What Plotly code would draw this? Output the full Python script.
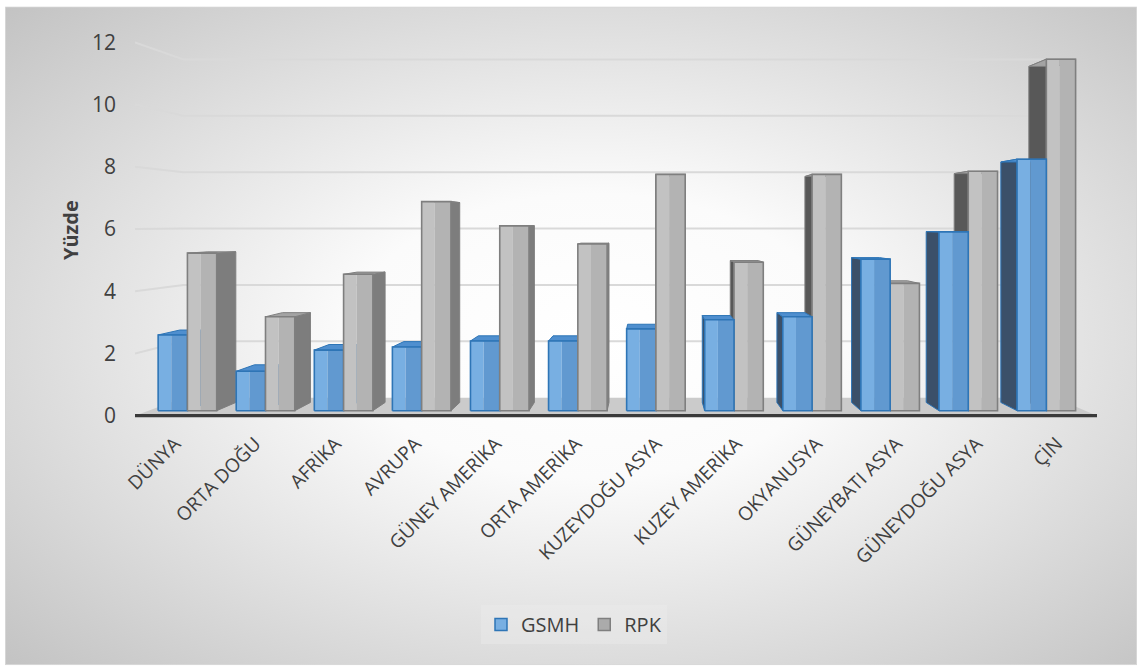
import base64
import plotly.graph_objects as go

# ---- data -------------------------------------------------------------
categories = ["DÜNYA", "ORTA DOĞU", "AFRİKA", "AVRUPA", "GÜNEY AMERİKA",
              "ORTA AMERİKA", "KUZEYDOĞU ASYA", "KUZEY AMERİKA", "OKYANUSYA",
              "GÜNEYBATI ASYA", "GÜNEYDOĞU ASYA", "ÇİN"]
gsmh = [2.5, 1.3, 2.0, 2.1, 2.3, 2.3, 2.7, 3.0, 3.1, 5.0, 5.9, 8.3]
rpk = [5.2, 3.1, 4.5, 6.9, 6.1, 5.5, 7.8, 4.9, 7.8, 4.2, 7.9, 11.6]
y_ticks = [0, 2, 4, 6, 8, 10, 12]
series_names = ["GSMH", "RPK"]

# ---- geometry of the pseudo-3D view ----------------------------------
W, H = 1140, 666
PLOT_L, PLOT_R = 135, 1097          # pixel span of the front floor edge
X_RANGE = [-0.5, len(categories) - 0.5]
PX_PER_UNIT = 31.17                 # vertical pixels per value unit (front plane)
Y0_PX = 416                          # pixel row of value 0 on the front plane
Y_RANGE = [-0.3, 12.3]

XC, YC = 5.92, 6.16                  # vanishing point (data units)
S_FRONT_BAR, S_BACK_BAR, S_WALL = 0.974, 0.931, 0.906
BAR_W = 0.375                        # width of one column (category units)

margin_t = Y0_PX - Y_RANGE[1] * PX_PER_UNIT
margin_b = H - (Y0_PX - Y_RANGE[0] * PX_PER_UNIT)
plot_h = H - margin_t - margin_b
plot_w = PLOT_R - PLOT_L


def proj(x, y, s):
    """Perspective shrink toward the vanishing point for depth factor s."""
    return XC + (x - XC) * s, YC + (y - YC) * s


def poly(points):
    xs, ys = zip(*points)
    return list(xs) + [xs[0]], list(ys) + [ys[0]]


fig = go.Figure()


def add_face(points, fill, line_color=None, line_width=0.0, opacity=1.0):
    xs, ys = poly(points)
    fig.add_trace(go.Scatter(
        x=xs, y=ys, mode="lines", fill="toself", fillcolor=fill,
        line=dict(color=line_color or fill, width=line_width),
        opacity=opacity, hoverinfo="skip", showlegend=False))


def add_line(points, color, width):
    xs, ys = zip(*points)
    fig.add_trace(go.Scatter(
        x=list(xs), y=list(ys), mode="lines",
        line=dict(color=color, width=width),
        hoverinfo="skip", showlegend=False))


# ---- walls: gridlines on the left wall and the back wall ---------------
xl, xr = X_RANGE
for t in y_ticks[1:]:
    fl = proj(xl, t, 1.0)
    bl = proj(xl, t, S_WALL)
    br = proj(xr, t, S_WALL)
    add_line([fl, bl, br], "#d9d9d9", 2)

# ---- floor --------------------------------------------------------------
add_face([proj(xl, 0, 1.0), proj(xr, 0, 1.0), proj(xr, 0, S_WALL),
          proj(xl, 0, S_WALL)], "#cbcbcb")
add_line([proj(xl, 0, 1.0), proj(xr, 0, 1.0)], "#3a3a3a", 3.2)

# ---- columns ------------------------------------------------------------
styles = {
    "GSMH": dict(front_l="#78afe2", front_r="#6199d0", edge="#2e75b6",
                 top="#4f8fcf", side_r="#4a78a6", side_l="#3b5069"),
    "RPK": dict(front_l="#c2c2c2", front_r="#b3b3b3", edge="#7f7f7f",
                top="#a3a3a3", side_r="#7d7d7d", side_l="#585858"),
}

columns = []
for i, cat in enumerate(categories):
    columns.append(("GSMH", i - BAR_W, i, gsmh[i]))
    columns.append(("RPK", i, i + BAR_W, rpk[i]))

left_cols = sorted([c for c in columns if (c[1] + c[2]) / 2 <= XC],
                   key=lambda c: c[1])
right_cols = sorted([c for c in columns if (c[1] + c[2]) / 2 > XC],
                    key=lambda c: -c[1])

for name, x0, x1, v in left_cols + right_cols:
    st = styles[name]
    # visible side face
    if x1 <= XC:
        add_face([proj(x1, 0, S_FRONT_BAR), proj(x1, 0, S_BACK_BAR),
                  proj(x1, v, S_BACK_BAR), proj(x1, v, S_FRONT_BAR)],
                 st["side_r"], st["edge"], 1)
    elif x0 >= XC:
        add_face([proj(x0, 0, S_FRONT_BAR), proj(x0, 0, S_BACK_BAR),
                  proj(x0, v, S_BACK_BAR), proj(x0, v, S_FRONT_BAR)],
                 st["side_l"], st["edge"], 1)
    # top face
    add_face([proj(x0, v, S_FRONT_BAR), proj(x1, v, S_FRONT_BAR),
              proj(x1, v, S_BACK_BAR), proj(x0, v, S_BACK_BAR)],
             st["top"], st["edge"], 1)
    # front face in two tones, then its outline
    xm = x0 + (x1 - x0) * 0.45
    add_face([proj(x0, 0, S_FRONT_BAR), proj(xm, 0, S_FRONT_BAR),
              proj(xm, v, S_FRONT_BAR), proj(x0, v, S_FRONT_BAR)],
             st["front_l"])
    add_face([proj(xm, 0, S_FRONT_BAR), proj(x1, 0, S_FRONT_BAR),
              proj(x1, v, S_FRONT_BAR), proj(xm, v, S_FRONT_BAR)],
             st["front_r"])
    xs, ys = poly([proj(x0, 0, S_FRONT_BAR), proj(x1, 0, S_FRONT_BAR),
                   proj(x1, v, S_FRONT_BAR), proj(x0, v, S_FRONT_BAR)])
    fig.add_trace(go.Scatter(x=xs, y=ys, mode="lines",
                             line=dict(color=st["edge"], width=1.6),
                             hoverinfo="skip", showlegend=False))

# ---- legend entries ----------------------------------------------------
for name in series_names:
    st = styles[name]
    fig.add_trace(go.Bar(x=[None], y=[None], name=name,
                         marker=dict(color=st["front_l"] if name == "GSMH" else "#ababab",
                                     line=dict(color=st["edge"], width=1.5))))

# ---- background: soft radial gradient panel ------------------------------
bg_w, bg_h = 1132, 660
svg = (f'<svg xmlns="http://www.w3.org/2000/svg" width="{bg_w}" height="{bg_h}" '
       f'viewBox="0 0 {bg_w} {bg_h}" preserveAspectRatio="none">'
       '<defs><radialGradient id="g" cx="0.52" cy="0.5" r="0.72">'
       '<stop offset="0" stop-color="#ffffff"/>'
       '<stop offset="0.3" stop-color="#fbfbfb"/>'
       '<stop offset="1" stop-color="#c3c3c3"/>'
       '</radialGradient></defs>'
       f'<rect x="0.5" y="0.5" width="{bg_w - 1}" height="{bg_h - 1}" fill="url(#g)" '
       'stroke="#d6d6d6" stroke-width="1"/></svg>')
src = "data:image/svg+xml;base64," + base64.b64encode(svg.encode()).decode()
bg_x_px, bg_y_px = 5, 6
fig.add_layout_image(dict(
    source=src, xref="paper", yref="paper",
    x=(bg_x_px - PLOT_L) / plot_w,
    y=(H - margin_b - bg_y_px) / plot_h,
    sizex=bg_w / plot_w, sizey=bg_h / plot_h,
    xanchor="left", yanchor="top", sizing="stretch", layer="below"))

FONT = "Open Sans, Noto Sans, sans-serif"
TXT = "#404040"

fig.add_annotation(
    text="<b>Yüzde</b>", textangle=-90, showarrow=False,
    xref="paper", yref="paper",
    x=(70 - PLOT_L) / plot_w, y=(H - margin_b - 230) / plot_h,
    xanchor="center", yanchor="middle",
    font=dict(family=FONT, size=20, color=TXT))

fig.update_layout(
    width=W, height=H, autosize=False,
    margin=dict(l=PLOT_L, r=W - PLOT_R, t=margin_t, b=margin_b, pad=0),
    paper_bgcolor="white", plot_bgcolor="rgba(0,0,0,0)",
    font=dict(family=FONT, color=TXT),
    xaxis=dict(range=X_RANGE, tickmode="array",
               tickvals=list(range(len(categories))), ticktext=categories,
               tickangle=-45, showgrid=False, zeroline=False, showline=False,
               ticks="", tickfont=dict(family=FONT, size=19, color=TXT),
               ticklabelstandoff=3, fixedrange=True),
    yaxis=dict(range=Y_RANGE, tickmode="array", tickvals=y_ticks,
               showgrid=False, zeroline=False, showline=False, ticks="",
               tickfont=dict(family=FONT, size=21, color=TXT),
               ticklabelstandoff=18, fixedrange=True),
    showlegend=True,
    legend=dict(orientation="h", xref="container", yref="container",
                x=574 / W, xanchor="center", y=1 - 605 / H, yanchor="top",
                bgcolor="rgba(236,236,236,0.45)",
                font=dict(family=FONT, size=20, color=TXT),
                itemwidth=30),
)

fig.write_html("out.html")
